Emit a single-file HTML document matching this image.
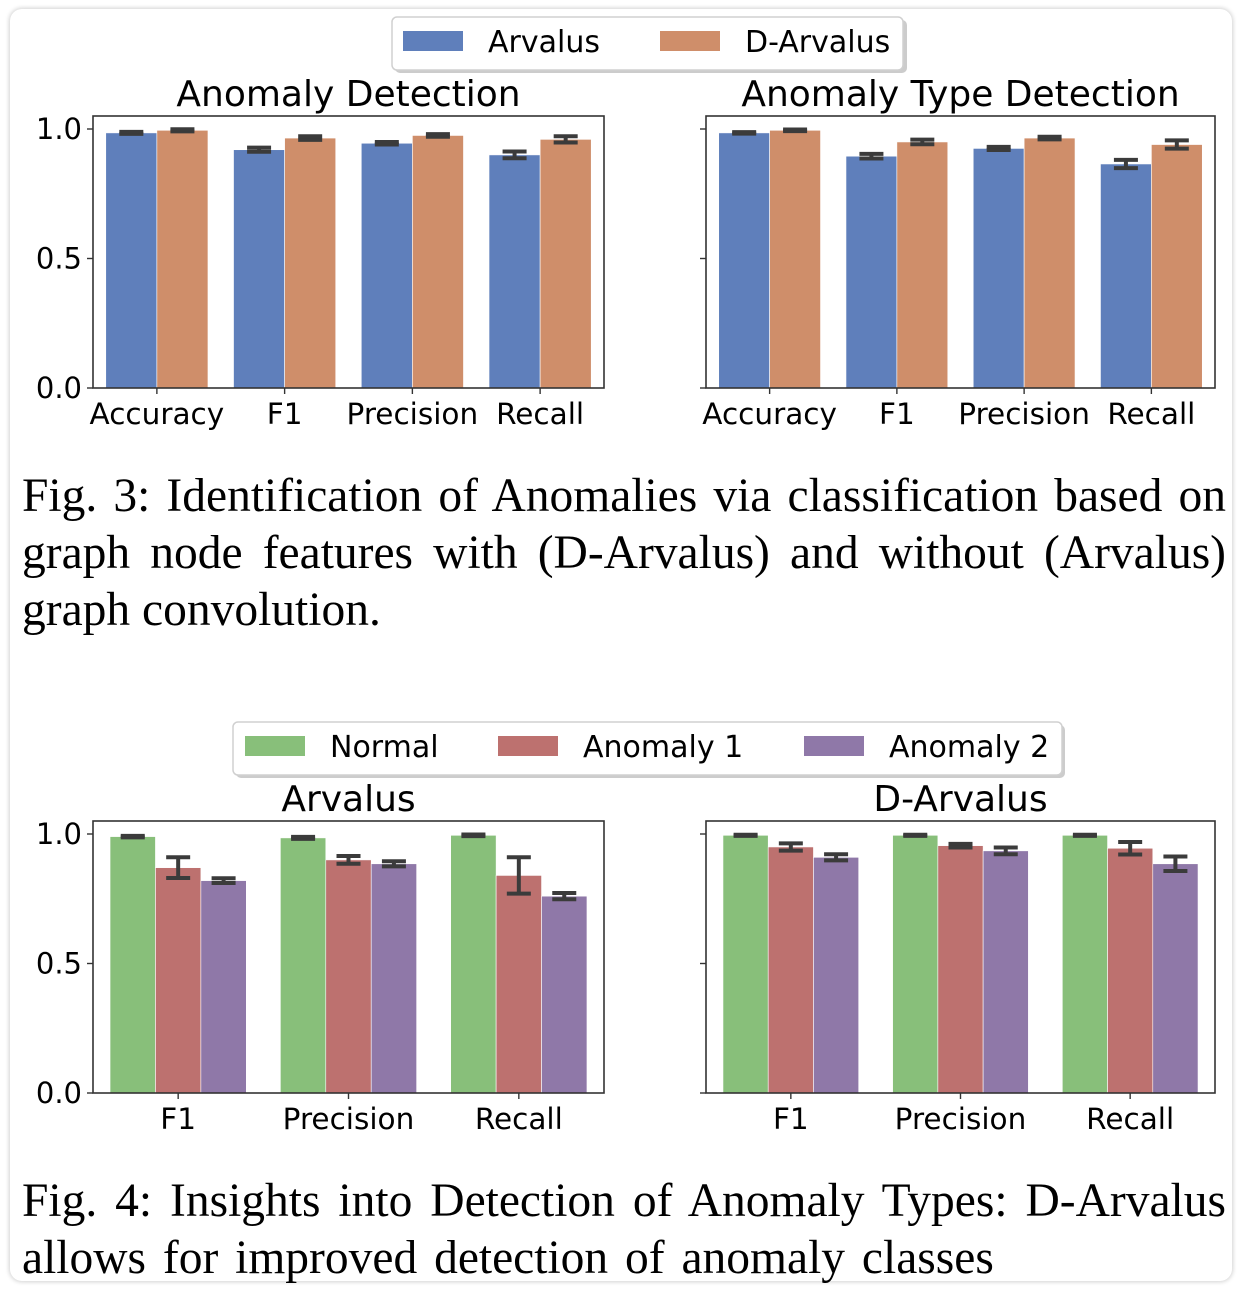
<!DOCTYPE html>
<html><head><meta charset="utf-8"><style>
html,body{margin:0;padding:0;background:#fff;}
#card{position:absolute;left:10px;top:9px;width:1222px;height:1272px;border-radius:12px;box-shadow:0 0 4px 1px rgba(0,0,0,0.18);background:#fff;}
svg{position:absolute;left:0;top:0;}
text{font-family:"DejaVu Sans","Liberation Sans",sans-serif;}
.cap{position:absolute;left:22px;width:1204px;font-family:"Liberation Serif",serif;font-size:47.5px;line-height:57px;white-space:nowrap;color:#000;}
.j{text-align:justify;text-align-last:justify;}
</style></head><body>
<div id="card"></div>
<svg id="s" width="1242" height="1292" xmlns="http://www.w3.org/2000/svg">
<g>
<rect x="395" y="20" width="512" height="53" rx="5" fill="#ccc"/>
<rect x="392" y="17" width="511" height="53" rx="5" fill="#fff" stroke="#d0d0d0" stroke-width="1.5"/>
<rect x="403" y="31" width="60" height="20" fill="#5f7fbb"/>
<text x="488" y="52" font-size="30">Arvalus</text>
<rect x="660" y="31" width="60" height="20" fill="#cf8e6a"/>
<text x="745" y="52" font-size="30">D-Arvalus</text>
</g>
<g>
<rect x="236" y="725" width="829" height="53" rx="5" fill="#ccc"/>
<rect x="233" y="722" width="829" height="53" rx="5" fill="#fff" stroke="#d0d0d0" stroke-width="1.5"/>
<rect x="245" y="736" width="60" height="20" fill="#88bf7a"/>
<text x="330" y="757" font-size="30">Normal</text>
<rect x="498" y="736" width="60" height="20" fill="#bd716f"/>
<text x="583" y="757" font-size="30">Anomaly 1</text>
<rect x="804" y="736" width="60" height="20" fill="#8f78a8"/>
<text x="889" y="757" font-size="30">Anomaly 2</text>
</g>
</svg>
<div>
<div class="cap j" style="top:468px">Fig. 3: Identification of Anomalies via classification based on</div>
<div class="cap j" style="top:525px">graph node features with (D-Arvalus) and without (Arvalus)</div>
<div class="cap" style="top:582px">graph convolution.</div>
</div>
<div>
<div class="cap j" style="top:1173px">Fig. 4: Insights into Detection of Anomaly Types: D-Arvalus</div>
<div class="cap" style="top:1230px;word-spacing:5px">allows for improved detection of anomaly classes</div>
</div>
<script>
const topCats = ["Accuracy","F1","Precision","Recall"];
const adArvalus = [0.985,0.92,0.945,0.90];
const adArvalusErr = [0.004,0.008,0.005,0.013];
const adDArvalus = [0.995,0.965,0.975,0.96];
const adDArvalusErr = [0.004,0.007,0.005,0.012];
const atdArvalus = [0.985,0.895,0.925,0.865];
const atdArvalusErr = [0.003,0.009,0.006,0.016];
const atdDArvalus = [0.995,0.95,0.965,0.94];
const atdDArvalusErr = [0.003,0.009,0.005,0.016];
const botCats = ["F1","Precision","Recall"];
const arvNormal = [0.99,0.985,0.995];
const arvNormalErr = [0.003,0.004,0.003];
const arvA1 = [0.87,0.90,0.84];
const arvA1Err = [0.04,0.015,0.07];
const arvA2 = [0.82,0.885,0.76];
const arvA2Err = [0.009,0.01,0.012];
const darvNormal = [0.995,0.995,0.995];
const darvNormalErr = [0.002,0.002,0.002];
const darvA1 = [0.95,0.955,0.945];
const darvA1Err = [0.014,0.007,0.024];
const darvA2 = [0.91,0.935,0.885];
const darvA2Err = [0.012,0.013,0.028];
const yTicks = [0.0,0.5,1.0];
const yTickLabels = ["0.0","0.5","1.0"];

const NS="http://www.w3.org/2000/svg";
const svg=document.getElementById('s');
function mk(tag,attrs,parent){const e=document.createElementNS(NS,tag);for(const k in attrs)e.setAttribute(k,attrs[k]);(parent||svg).appendChild(e);return e;}

function chart(name,x0,x1,yTop,yBot,title,cats,series,errs,colors,names){
  const g=mk('g',{});
  
  
  const y1=yBot-259*(yBot-yTop)/272;
  const ys=v=>yBot-v*(yBot-y1);
  const n=cats.length, w=(x1-x0)/n;
  const xs=i=>x0+(i+0.5)*w;
  const bw=0.8*w/series.length;
  series.forEach((vals,s)=>{
    vals.forEach((v,i)=>{
      const bx=xs(i)-0.4*w+s*bw;
      const r=mk('rect',{x:bx,y:ys(v),width:bw,height:yBot-ys(v),fill:colors[s],stroke:'#fff','stroke-width':0.6},g);
      
      
      const e=errs[s][i], cx=bx+bw/2;
      const eg=mk('g',{stroke:'#3b3b3b','stroke-width':4},g);
      
      
      mk('line',{x1:cx,x2:cx,y1:ys(v-e),y2:ys(v+e)},eg);
      mk('line',{x1:cx-12,x2:cx+12,y1:ys(v-e),y2:ys(v-e)},eg);
      mk('line',{x1:cx-12,x2:cx+12,y1:ys(v+e),y2:ys(v+e)},eg);
    });
  });
  const f=mk('rect',{x:x0,y:yTop,width:x1-x0,height:yBot-yTop,fill:'none',stroke:'#333','stroke-width':1.6},g);
  
  
  yTicks.forEach((t,k)=>{
    mk('line',{x1:x0-6,x2:x0,y1:ys(t),y2:ys(t),stroke:'#333','stroke-width':1.4},g);
    if(x0<300){
      const tl=mk('text',{x:x0-11,y:ys(t)+10,'font-size':29,'text-anchor':'end'},g);
      tl.textContent=yTickLabels[k];
      
      
    }
  });
  cats.forEach((c,i)=>{
    mk('line',{x1:xs(i),x2:xs(i),y1:yBot,y2:yBot+6,stroke:'#333','stroke-width':1.4},g);
    const tl=mk('text',{x:xs(i),y:yBot+36,'font-size':29.5,'text-anchor':'middle'},g);
    tl.textContent=c;
    
    
  });
  const tt=mk('text',{x:(x0+x1)/2,y:yTop-10,'font-size':36,'text-anchor':'middle'},g);
  tt.textContent=title;
  
  
}
const c2=["#5f7fbb","#cf8e6a"], n2=["arvalus","d-arvalus"];
const c3=["#88bf7a","#bd716f","#8f78a8"], n3=["normal","anomaly-1","anomaly-2"];
chart('anomaly-detection-chart',93,604,116,388,'Anomaly Detection',topCats,[adArvalus,adDArvalus],[adArvalusErr,adDArvalusErr],c2,n2);
chart('anomaly-type-detection-chart',706,1215,116,388,'Anomaly Type Detection',topCats,[atdArvalus,atdDArvalus],[atdArvalusErr,atdDArvalusErr],c2,n2);
chart('arvalus-chart',93,604,821,1093,'Arvalus',botCats,[arvNormal,arvA1,arvA2],[arvNormalErr,arvA1Err,arvA2Err],c3,n3);
chart('d-arvalus-chart',706,1215,821,1093,'D-Arvalus',botCats,[darvNormal,darvA1,darvA2],[darvNormalErr,darvA1Err,darvA2Err],c3,n3);
</script>
</body></html>
